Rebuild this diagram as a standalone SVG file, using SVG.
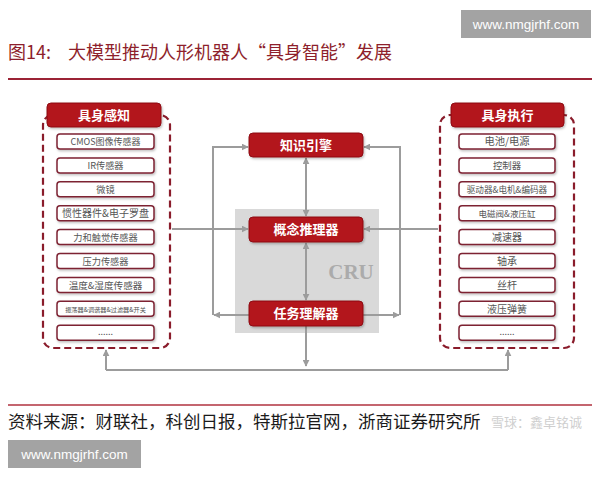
<svg xmlns="http://www.w3.org/2000/svg" width="600" height="480" viewBox="0 0 600 480">
<defs>
<style>
.cjk{font-family:"Noto Sans CJK SC","Noto Sans",sans-serif}
.title{font-size:18px;fill:#8E1F2C}
.src{font-size:17.5px;fill:#1a1a1a}
.wm{font-family:"Liberation Sans",Arial,sans-serif;font-size:13.5px;fill:#ffffff}
.wmbox{fill:#a3a3a3}
.panel{fill:none;stroke:#8A1C2B;stroke-width:2.2;stroke-dasharray:7 4}
.red{fill:#B3131C;stroke:#8E0E14;stroke-width:1}
.redt{font-size:13px;font-weight:bold;fill:#ffffff;text-anchor:middle}
.item{fill:#ffffff;stroke:#7D2333;stroke-width:1.5}
.itemt{fill:#555555;text-anchor:middle}
.conn{fill:none;stroke:#9c9c9c;stroke-width:2}
</style>
<marker id="ah" viewBox="0 0 10 10" refX="9" refY="5" markerWidth="7" markerHeight="7" markerUnits="userSpaceOnUse" orient="auto-start-reverse">
<path d="M0,0 L10,5 L0,10 z" fill="#9c9c9c"/>
</marker>
<filter id="sh" x="-10%" y="-20%" width="120%" height="150%">
<feDropShadow dx="1" dy="1.5" stdDeviation="1" flood-color="#000" flood-opacity="0.25"/>
</filter>
</defs>
<rect width="600" height="480" fill="#ffffff"/>

<!-- header -->
<rect class="wmbox" x="461" y="10" width="130" height="28"/>
<text class="wm" x="526" y="29" text-anchor="middle">www.nmgjrhf.com</text>
<text class="cjk title" x="8" y="59">图14:</text>
<text class="cjk title" x="68" y="59">大模型推动人形机器人“具身智能”发展</text>
<line x1="8" y1="79" x2="592" y2="79" stroke="#9B2335" stroke-width="2"/>

<!-- CRU background -->
<g id="cru">
<rect x="235" y="209" width="144" height="124" fill="#d9d9d9"/>
<text x="351" y="279" font-family="Liberation Serif,serif" font-size="21" font-weight="bold" fill="#ababab" text-anchor="middle">CRU</text>
</g>

<!-- connectors -->
<g id="connectors">
<path class="conn" d="M249,315 H214" marker-end="url(#ah)"/>
<path class="conn" d="M213,315 V147 H248" marker-end="url(#ah)"/>
<path class="conn" d="M363,315 H399" marker-end="url(#ah)"/>
<path class="conn" d="M400,315 V147 H364" marker-end="url(#ah)"/>
<path class="conn" d="M172,229 H248" marker-end="url(#ah)"/>
<path class="conn" d="M438,229 H364" marker-end="url(#ah)"/>
<path class="conn" d="M306,158 V216" marker-start="url(#ah)" marker-end="url(#ah)"/>
<path class="conn" d="M306,243 V300" marker-start="url(#ah)" marker-end="url(#ah)"/>
<path class="conn" d="M306,326 V366" marker-end="url(#ah)"/>
<path class="conn" d="M106,370 H508"/>
<path class="conn" d="M106,370 V350" marker-end="url(#ah)"/>
<path class="conn" d="M508,370 V350" marker-end="url(#ah)"/>
</g>

<!-- center nodes -->
<g id="zhishi">
<rect class="red" x="249" y="133" width="114" height="24" rx="4" filter="url(#sh)"/>
<text class="cjk redt" x="306" y="150">知识引擎</text>
</g>
<g id="gainian">
<rect class="red" x="249" y="217" width="114" height="25" rx="4" filter="url(#sh)"/>
<text class="cjk redt" x="306" y="234">概念推理器</text>
</g>
<g id="renwu">
<rect class="red" x="249" y="301" width="114" height="25" rx="4" filter="url(#sh)"/>
<text class="cjk redt" x="306" y="318">任务理解器</text>
</g>

<!-- left panel -->
<g id="ganzhi">
<rect class="panel" x="43" y="115" width="127" height="233" rx="10"/>
<rect class="red" x="47" y="103" width="114" height="24" rx="4" filter="url(#sh)"/>
<text class="cjk redt" x="104" y="120">具身感知</text>
</g>
<g id="l1"><rect class="item" x="57" y="134" width="97" height="15" rx="3" filter="url(#sh)"/><text class="cjk itemt" x="105.5" y="145" font-size="9">CMOS图像传感器</text></g>
<g id="l2"><rect class="item" x="57" y="157.9" width="97" height="15" rx="3" filter="url(#sh)"/><text class="cjk itemt" x="105.5" y="169" font-size="9.2">IR传感器</text></g>
<g id="l3"><rect class="item" x="57" y="181.8" width="97" height="15" rx="3" filter="url(#sh)"/><text class="cjk itemt" x="105.5" y="193" font-size="9.2">微镜</text></g>
<g id="l4"><rect class="item" x="57" y="205.7" width="97" height="15" rx="3" filter="url(#sh)"/><text class="cjk itemt" x="105.5" y="216.9" font-size="10">惯性器件&amp;电子罗盘</text></g>
<g id="l5"><rect class="item" x="57" y="229.6" width="97" height="15" rx="3" filter="url(#sh)"/><text class="cjk itemt" x="105.5" y="240.8" font-size="9.2">力和触觉传感器</text></g>
<g id="l6"><rect class="item" x="57" y="253.5" width="97" height="15" rx="3" filter="url(#sh)"/><text class="cjk itemt" x="105.5" y="264.7" font-size="9.2">压力传感器</text></g>
<g id="l7"><rect class="item" x="57" y="277.4" width="97" height="15" rx="3" filter="url(#sh)"/><text class="cjk itemt" x="105.5" y="288.6" font-size="9.6">温度&amp;湿度传感器</text></g>
<g id="l8"><rect class="item" x="57" y="301.3" width="97" height="15" rx="3" filter="url(#sh)"/><text class="cjk itemt" x="105.5" y="311.6" font-size="6.2">振荡器&amp;调谐器&amp;过滤器&amp;开关</text></g>
<g id="l9"><rect class="item" x="57" y="325.2" width="97" height="15" rx="3" filter="url(#sh)"/><text class="cjk itemt" x="105.5" y="335" font-size="9" fill="#999">......</text></g>

<!-- right panel -->
<g id="zhixing">
<rect class="panel" x="440" y="115" width="134" height="233" rx="10"/>
<rect class="red" x="451" y="103" width="113" height="24" rx="4" filter="url(#sh)"/>
<text class="cjk redt" x="507.5" y="120">具身执行</text>
</g>
<g id="r1"><rect class="item" x="459" y="134" width="96" height="15" rx="3" filter="url(#sh)"/><text class="cjk itemt" x="507" y="145.4" font-size="10.3">电池/电源</text></g>
<g id="r2"><rect class="item" x="459" y="157.9" width="96" height="15" rx="3" filter="url(#sh)"/><text class="cjk itemt" x="507" y="169" font-size="9.4">控制器</text></g>
<g id="r3"><rect class="item" x="459" y="181.8" width="96" height="15" rx="3" filter="url(#sh)"/><text class="cjk itemt" x="507" y="192.6" font-size="8.6">驱动器&amp;电机&amp;编码器</text></g>
<g id="r4"><rect class="item" x="459" y="205.7" width="96" height="15" rx="3" filter="url(#sh)"/><text class="cjk itemt" x="507" y="216.5" font-size="8.5">电磁阀&amp;液压缸</text></g>
<g id="r5"><rect class="item" x="459" y="229.6" width="96" height="15" rx="3" filter="url(#sh)"/><text class="cjk itemt" x="507" y="241" font-size="10">减速器</text></g>
<g id="r6"><rect class="item" x="459" y="253.5" width="96" height="15" rx="3" filter="url(#sh)"/><text class="cjk itemt" x="507" y="264.9" font-size="10">轴承</text></g>
<g id="r7"><rect class="item" x="459" y="277.4" width="96" height="15" rx="3" filter="url(#sh)"/><text class="cjk itemt" x="507" y="288.8" font-size="10">丝杆</text></g>
<g id="r8"><rect class="item" x="459" y="301.3" width="96" height="15" rx="3" filter="url(#sh)"/><text class="cjk itemt" x="507" y="312.7" font-size="10">液压弹簧</text></g>
<g id="r9"><rect class="item" x="459" y="325.2" width="96" height="15" rx="3" filter="url(#sh)"/><text class="cjk itemt" x="507" y="335" font-size="9" fill="#999">......</text></g>

<!-- footer -->
<line x1="8" y1="405" x2="592" y2="405" stroke="#B0323F" stroke-width="1.5"/>
<text class="cjk src" x="8" y="428">资料来源：财联社，科创日报，特斯拉官网，浙商证券研究所</text>
<text class="cjk" x="582" y="427" font-size="13" fill="#cfcfcf" text-anchor="end">雪球：鑫卓铭诚</text>
<rect class="wmbox" x="8" y="440" width="133" height="28"/>
<text class="wm" x="74.5" y="459" text-anchor="middle">www.nmgjrhf.com</text>
</svg>
